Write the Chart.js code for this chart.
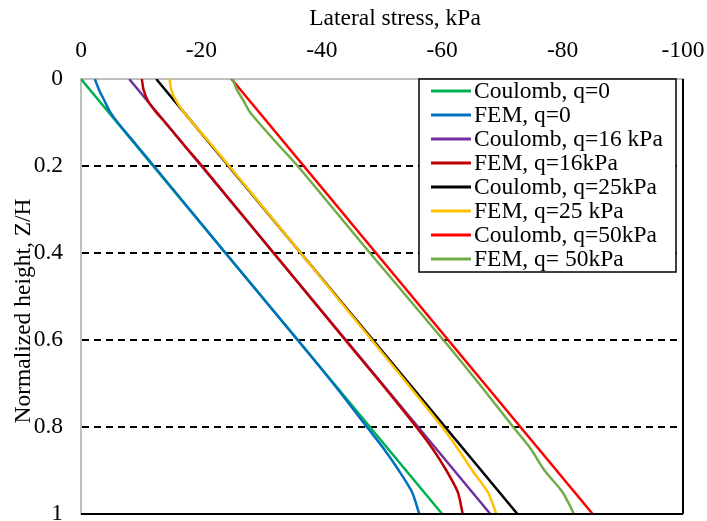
<!DOCTYPE html>
<html>
<head>
<meta charset="utf-8">
<script src="https://cdn.jsdelivr.net/npm/chart.js@4/dist/chart.umd.min.js"></script>
<style>
  html, body { margin: 0; padding: 0; background: #ffffff; }
  #wrap { width: 707px; height: 521px; }
</style>
</head>
<body>
<div id="wrap"><canvas id="c" width="707" height="521"></canvas></div>
<script>
// ---- data ----
const seriesLabels = ['Coulomb, q=0', 'FEM, q=0', 'Coulomb, q=16 kPa', 'FEM, q=16kPa',
                      'Coulomb, q=25kPa', 'FEM, q=25 kPa', 'Coulomb, q=50kPa', 'FEM, q= 50kPa'];
const seriesColors = ['#00B050', '#0070C0', '#7030A0', '#C00000',
                      '#000000', '#FFC000', '#FF0000', '#70AD47'];

const xTitle = 'Lateral stress, kPa';
const yTitle = 'Normalized height, Z/H';

// Normalized height Z/H
const zCoulomb = [0, 1];
const zFEM = [0, 0.025, 0.05, 0.075, 0.1, 0.15, 0.2, 0.4, 0.6, 0.7, 0.8, 0.85, 0.9, 0.95, 1];

// Lateral stress, kPa
const coulombQ0  = [0, -60];
const femQ0      = [-2.3, -3.0, -3.9, -4.8, -6.1, -9.1, -12.1, -24.0, -36.0, -41.9, -47.5, -50.3, -52.8, -55.0, -56.2];
const coulombQ16 = [-8, -68];
const femQ16     = [-10.1, -10.4, -11.1, -12.4, -14.0, -17.0, -20.1, -32.0, -43.9, -49.9, -55.7, -58.4, -60.7, -62.6, -63.4];
const coulombQ25 = [-12.5, -72.5];
const femQ25     = [-14.7, -15.0, -15.8, -17.0, -18.5, -21.6, -24.6, -36.5, -48.3, -54.2, -60.0, -62.6, -65.0, -67.6, -69.0];
const coulombQ50 = [-25, -85];
const femQ50     = [-25.2, -25.9, -27.0, -28.0, -29.5, -32.7, -36.0, -48.0, -60.2, -66.1, -71.8, -74.7, -77.0, -80.0, -81.9];

const xTickLabels = ['0', '-20', '-40', '-60', '-80', '-100'];
const yTickLabels = ['0', '0.2', '0.4', '0.6', '0.8', '1'];

// ---- build datasets ----
const seriesValues = [coulombQ0, femQ0, coulombQ16, femQ16, coulombQ25, femQ25, coulombQ50, femQ50];
const seriesZ = [zCoulomb, zFEM, zCoulomb, zFEM, zCoulomb, zFEM, zCoulomb, zFEM];

const datasets = seriesValues.map((vals, i) => ({
  label: seriesLabels[i],
  data: vals.map((v, k) => ({ x: v, y: seriesZ[i][k] })),
  borderColor: seriesColors[i],
  backgroundColor: seriesColors[i],
  borderWidth: 2.5,
  pointRadius: 0,
  showLine: true,
  tension: (i % 2 === 1) ? 0.25 : 0,
  order: -i
}));

const FONT = "'Liberation Serif', 'Times New Roman', serif";
const FSIZE = 23.5;

const bgPlugin = {
  id: 'bg',
  beforeDraw(chart) {
    const ctx = chart.ctx;
    ctx.save();
    ctx.fillStyle = '#ffffff';
    ctx.fillRect(0, 0, chart.width, chart.height);
    ctx.restore();
  }
};

const framePlugin = {
  id: 'frame',
  afterDatasetsDraw(chart) {
    const a = chart.chartArea, ctx = chart.ctx;
    ctx.save();
    ctx.strokeStyle = '#000000';
    ctx.lineWidth = 2;
    ctx.beginPath();
    ctx.moveTo(a.left, a.bottom);
    ctx.lineTo(a.right, a.bottom);
    ctx.moveTo(a.right, a.top);
    ctx.lineTo(a.right, a.bottom);
    ctx.stroke();
    ctx.restore();
  }
};

const titlesPlugin = {
  id: 'axisTitles',
  afterDraw(chart) {
    const ctx = chart.ctx;
    ctx.save();
    ctx.fillStyle = '#000000';
    ctx.font = FSIZE + 'px ' + FONT;
    ctx.textAlign = 'center';
    ctx.textBaseline = 'middle';
    ctx.fillText(xTitle, 395, 19);
    ctx.translate(24, 311);
    ctx.rotate(-Math.PI / 2);
    ctx.fillText(yTitle, 0, 0);
    ctx.restore();
  }
};

const legendPlugin = {
  id: 'boxLegend',
  afterDraw(chart) {
    const ctx = chart.ctx;
    const x0 = 419, y0 = 79, w = 257, h = 193;
    ctx.save();
    ctx.fillStyle = '#ffffff';
    ctx.fillRect(x0, y0, w, h);
    ctx.strokeStyle = '#000000';
    ctx.lineWidth = 1.5;
    ctx.strokeRect(x0, y0, w, h);
    ctx.font = FSIZE + 'px ' + FONT;
    ctx.textBaseline = 'middle';
    ctx.textAlign = 'left';
    chart.data.datasets.forEach((ds, i) => {
      const y = y0 + 12 + i * 24;
      ctx.strokeStyle = ds.borderColor;
      ctx.lineWidth = 3;
      ctx.beginPath();
      ctx.moveTo(x0 + 12, y);
      ctx.lineTo(x0 + 52, y);
      ctx.stroke();
      ctx.fillStyle = '#000000';
      ctx.fillText(ds.label, x0 + 55, y + 1);
    });
    ctx.restore();
  }
};

function noEndPadding(scale) {
  scale.paddingTop = 0; scale.paddingBottom = 0;
  scale.paddingLeft = 0; scale.paddingRight = 0;
}

new Chart(document.getElementById('c'), {
  type: 'scatter',
  data: { datasets },
  plugins: [bgPlugin, framePlugin, titlesPlugin, legendPlugin],
  options: {
    responsive: false,
    animation: false,
    layout: { padding: { left: 0, right: 24, top: 0, bottom: 7 } },
    plugins: { legend: { display: false }, tooltip: { enabled: false } },
    scales: {
      x: {
        type: 'linear',
        position: 'top',
        min: -100, max: 0,
        reverse: true,
        afterFit(scale) { scale.height = 79; noEndPadding(scale); },
        ticks: {
          stepSize: 20,
          color: '#000000',
          font: { family: FONT, size: FSIZE },
          padding: 14,
          maxRotation: 0,
          callback(value) { return xTickLabels[Math.round(-value / 20)]; }
        },
        grid: { display: true, drawOnChartArea: false, drawTicks: false },
        border: { display: true, color: '#BFBFBF', width: 2 },
        title: { display: false }
      },
      y: {
        type: 'linear',
        min: 0, max: 1,
        reverse: true,
        afterFit(scale) { scale.width = 81; noEndPadding(scale); },
        ticks: {
          stepSize: 0.2,
          color: '#000000',
          font: { family: FONT, size: FSIZE },
          padding: 18,
          callback(value) { return yTickLabels[Math.round(value / 0.2)]; }
        },
        grid: {
          display: true,
          drawTicks: false,
          lineWidth: 2,
          color(ctx) {
            const v = ctx.tick ? ctx.tick.value : 0;
            return (v > 0.01 && v < 0.99) ? '#000000' : 'rgba(0,0,0,0)';
          }
        },
        border: { display: true, color: '#BFBFBF', width: 2, dash: [7, 5] },
        title: { display: false }
      }
    }
  }
});
</script>
</body>
</html>
